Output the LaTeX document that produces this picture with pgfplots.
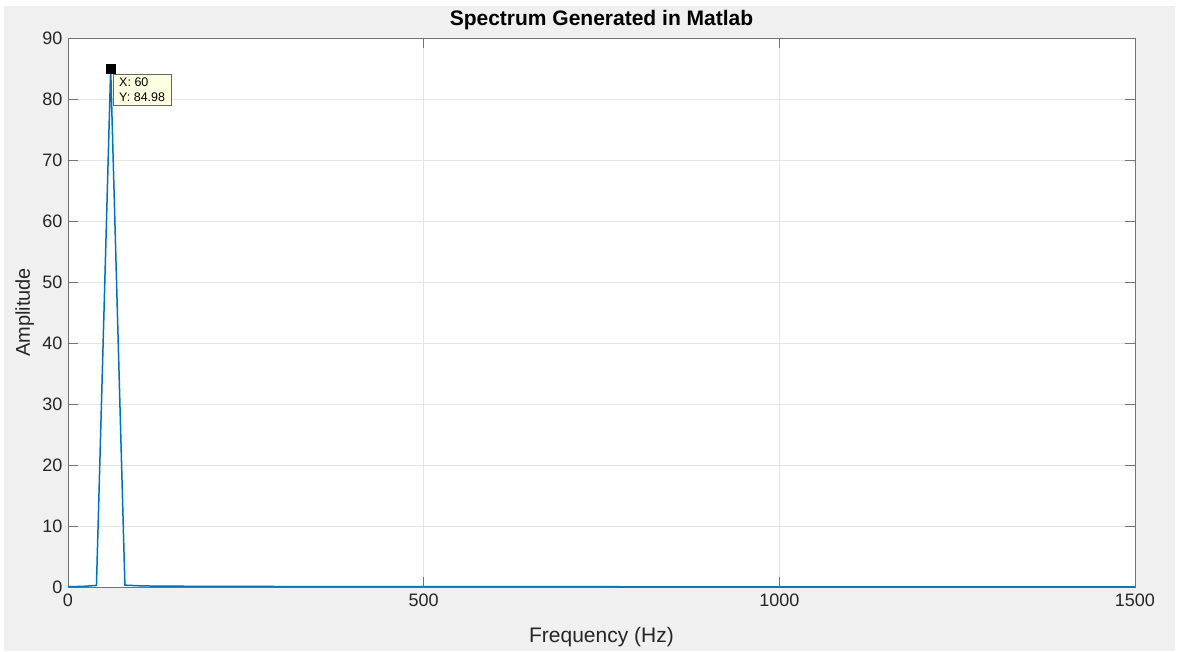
\documentclass[border=0pt]{standalone}
\usepackage{pgfplots}
\pgfplotsset{compat=1.18}
\usepackage{fontspec}
\setmainfont{Liberation Sans}
\definecolor{mblue}{rgb}{0,0.447,0.741}
\definecolor{figbg}{RGB}{240,240,240}
\definecolor{tipbg}{RGB}{255,255,225}
\begin{document}
\begin{tikzpicture}[x=1pt,y=1pt]
\fill[figbg] (-68,-64) rectangle (1110,587);
\fill[white] (-68,581) rectangle (1110,587);
\fill[white] (-68,-64) rectangle (-64,587);
\fill[white] (1107,-64) rectangle (1110,587);
\begin{axis}[at={(0,0)}, anchor=south west, scale only axis,
  width=1067pt, height=549pt,
  xmin=0, xmax=1500, ymin=0, ymax=90,
  xtick={0,500,1000,1500}, ytick={0,10,...,90},
  axis background/.style={fill=white},
  grid=major, major grid style={black!10, line width=0.6pt},
  axis line style={black!55, line width=0.8pt},
  tick style={black!55, line width=0.8pt}, tick align=inside, major tick length=10pt,
  ticklabel style={font=\fontsize{18}{20}\selectfont, text=black!85},
  /pgf/number format/assume math mode=true,
  /pgf/number format/1000 sep={},
  xticklabel style={yshift=-3pt},
  yticklabel style={xshift=-2pt},
  title={\textbf{Spectrum Generated in Matlab}},
  title style={font=\fontsize{21}{24}\selectfont, at={(axis description cs:0.5,1)}, anchor=base, yshift=7pt},
  xlabel={Frequency (Hz)}, ylabel={Amplitude},
  xlabel style={font=\fontsize{21}{24}\selectfont, text=black!85, at={(axis description cs:0.5,0)}, anchor=base, yshift=-55pt},
  ylabel style={font=\fontsize{20}{24}\selectfont, text=black!85, at={(axis description cs:0,0.5)}, anchor=base, yshift=38pt},
  clip=false,
]
\addplot[mblue, line width=1.5pt] coordinates {
 (0,0.05) (20,0.1) (40,0.25) (60,84.98) (80,0.3) (100,0.2) (120,0.15) (200,0.1)
 (400,0.06) (800,0.04) (1200,0.03) (1500,0.03)
};
\addplot[only marks, mark=square*, mark size=4.5pt, black] coordinates {(60,84.98)};
\node[draw=black!60, fill=tipbg, anchor=north west, align=left, inner xsep=6pt, inner ysep=3.5pt,
  font=\fontsize{12.5}{15}\selectfont] at (axis cs:63.3,84.1) {X: 60\\Y: 84.98};
\end{axis}
\end{tikzpicture}
\end{document}
